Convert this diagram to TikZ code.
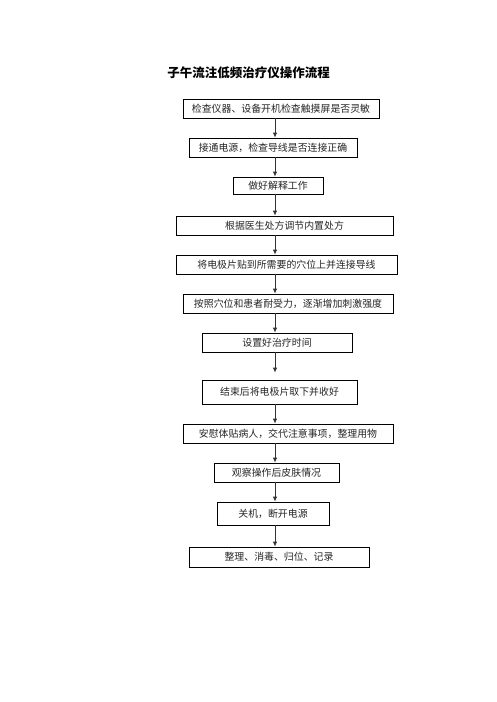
\documentclass[tikz,border=0pt]{standalone}
\usepackage{fontspec}
\setmainfont{Liberation Serif}
\newfontfamily\cjk{Noto Sans CJK SC}[Scale=1]
\usetikzlibrary{arrows.meta}
\tikzset{
  stepbox/.style={draw=black, line width=0.8pt, rectangle, inner sep=0pt, font=\cjk\fontsize{9.9pt}{11pt}\selectfont, text=black!85},
  arr/.style={draw=black!80, line width=0.8pt, -{Latex[length=5pt,width=4.5pt]}},
  titlestyle/.style={font=\cjk\bfseries\fontsize{12.5pt}{14pt}\selectfont, inner sep=0pt}
}
\begin{document}
\begin{tikzpicture}[x=1pt,y=-1pt]
\useasboundingbox (0,0) rectangle (496,702);
\fill[white] (0,0) rectangle (496,702);
\node[titlestyle] (title) at (248.5,73) {子午流注低频治疗仪操作流程};
\coordinate (ax) at (275,0);
\node[stepbox, minimum width=196pt, minimum height=19pt] (b1) at (281,108.5) {检查仪器、设备开机检查触摸屏是否灵敏};
\node[stepbox, minimum width=168pt, minimum height=19pt] (b2) at (273,147.5) {接通电源，检查导线是否连接正确};
\node[stepbox, minimum width=90pt, minimum height=17pt] (b3) at (278,185.5) {做好解释工作};
\node[stepbox, minimum width=217pt, minimum height=19pt] (b4) at (284.5,225.5) {根据医生处方调节内置处方};
\node[stepbox, minimum width=221pt, minimum height=19pt] (b5) at (286.5,264.5) {将电极片贴到所需要的穴位上并连接导线};
\node[stepbox, minimum width=210pt, minimum height=19pt] (b6) at (288,303.5) {按照穴位和患者耐受力，逐渐增加刺激强度};
\node[stepbox, minimum width=150pt, minimum height=19pt] (b7) at (277,342.5) {设置好治疗时间};
\node[stepbox, minimum width=155pt, minimum height=24pt] (b8) at (279.5,392) {结束后将电极片取下并收好};
\node[stepbox, minimum width=210pt, minimum height=19pt] (b9) at (288,433.5) {安慰体贴病人，交代注意事项，整理用物};
\node[stepbox, minimum width=125pt, minimum height=19pt] (b10) at (276.5,472.5) {观察操作后皮肤情况};
\node[stepbox, minimum width=112pt, minimum height=23pt] (b11) at (273,513.5) {关机，断开电源};
\node[stepbox, minimum width=180pt, minimum height=20pt] (b12) at (279,557) {整理、消毒、归位、记录};
\foreach \a/\b in {b1/b2,b2/b3,b3/b4,b4/b5,b5/b6,b6/b7,b8/b9,b9/b10,b10/b11,b11/b12}{
  \draw[arr] (ax |- \a.south) -- (ax |- \b.north);
}
\draw[arr, shorten >=7pt] (ax |- b7.south) -- (ax |- b8.north);
\end{tikzpicture}
\end{document}
